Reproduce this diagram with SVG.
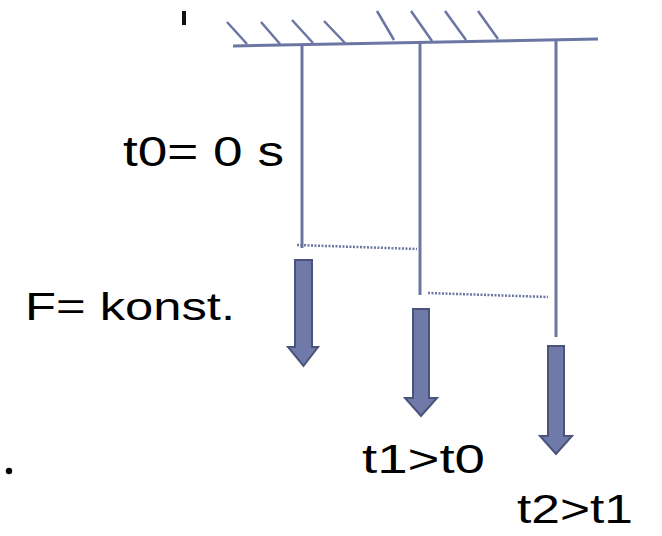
<svg xmlns="http://www.w3.org/2000/svg" width="662" height="536" viewBox="0 0 662 536">
<style>
.ln{stroke:#6b76a2;stroke-width:3;fill:none;stroke-linecap:butt}
.ht{stroke:#6b76a2;stroke-width:2.5;fill:none}
.dot{stroke:#6b76a2;stroke-width:2.5;stroke-dasharray:2 1.5;fill:none}
.ar{fill:#6f7aa8;stroke:#4a5379;stroke-width:2;stroke-linejoin:miter}
.tx{font-family:"Liberation Sans",Arial,sans-serif;fill:#000}
</style>
<rect width="662" height="536" fill="#fff"/>
<g id="ceiling">
<line class="ln" x1="233" y1="46" x2="598" y2="39"/>
<path class="ht" d="M227 22L247 44M261 22L280 44M292 20L313 43M324 21L345 43M377 11L394 40M411 11L432 41M445 11L466 40M478 11L498 39"/>
<rect x="182" y="11" width="4" height="14" fill="#111"/>
</g>
<g id="connectors">
<line class="ln" x1="302" y1="45" x2="302" y2="248"/>
<line class="ln" x1="420" y1="43" x2="420" y2="295"/>
<line class="ln" x1="556" y1="40" x2="556" y2="337"/>
<line class="dot" x1="297" y1="245" x2="417" y2="249"/>
<line class="dot" x1="428" y1="293" x2="548" y2="297"/>
</g>
<g id="arrow0">
<polygon class="ar" points="295,260 312,260 312,347 318,347 303.5,366 288,347 295,347"/>
</g>
<g id="arrow1">
<polygon class="ar" points="413,309 429,309 429,398 437,398 421,416 405,398 413,398"/>
</g>
<g id="arrow2">
<polygon class="ar" points="548,346 564,346 564,436 572,436 556,454 540,436 548,436"/>
</g>
<g id="labels">
<text class="tx" x="123" y="166" font-size="43" textLength="161" lengthAdjust="spacingAndGlyphs">t0= 0 s</text>
<text class="tx" x="25" y="320" font-size="38" textLength="210" lengthAdjust="spacingAndGlyphs">F= konst.</text>
<text class="tx" x="362" y="473" font-size="41" textLength="123" lengthAdjust="spacingAndGlyphs">t1&gt;t0</text>
<text class="tx" x="517" y="523" font-size="41" textLength="116" lengthAdjust="spacingAndGlyphs">t2&gt;t1</text>
<circle cx="9" cy="471" r="3.2" fill="#000"/>
</g>
</svg>
